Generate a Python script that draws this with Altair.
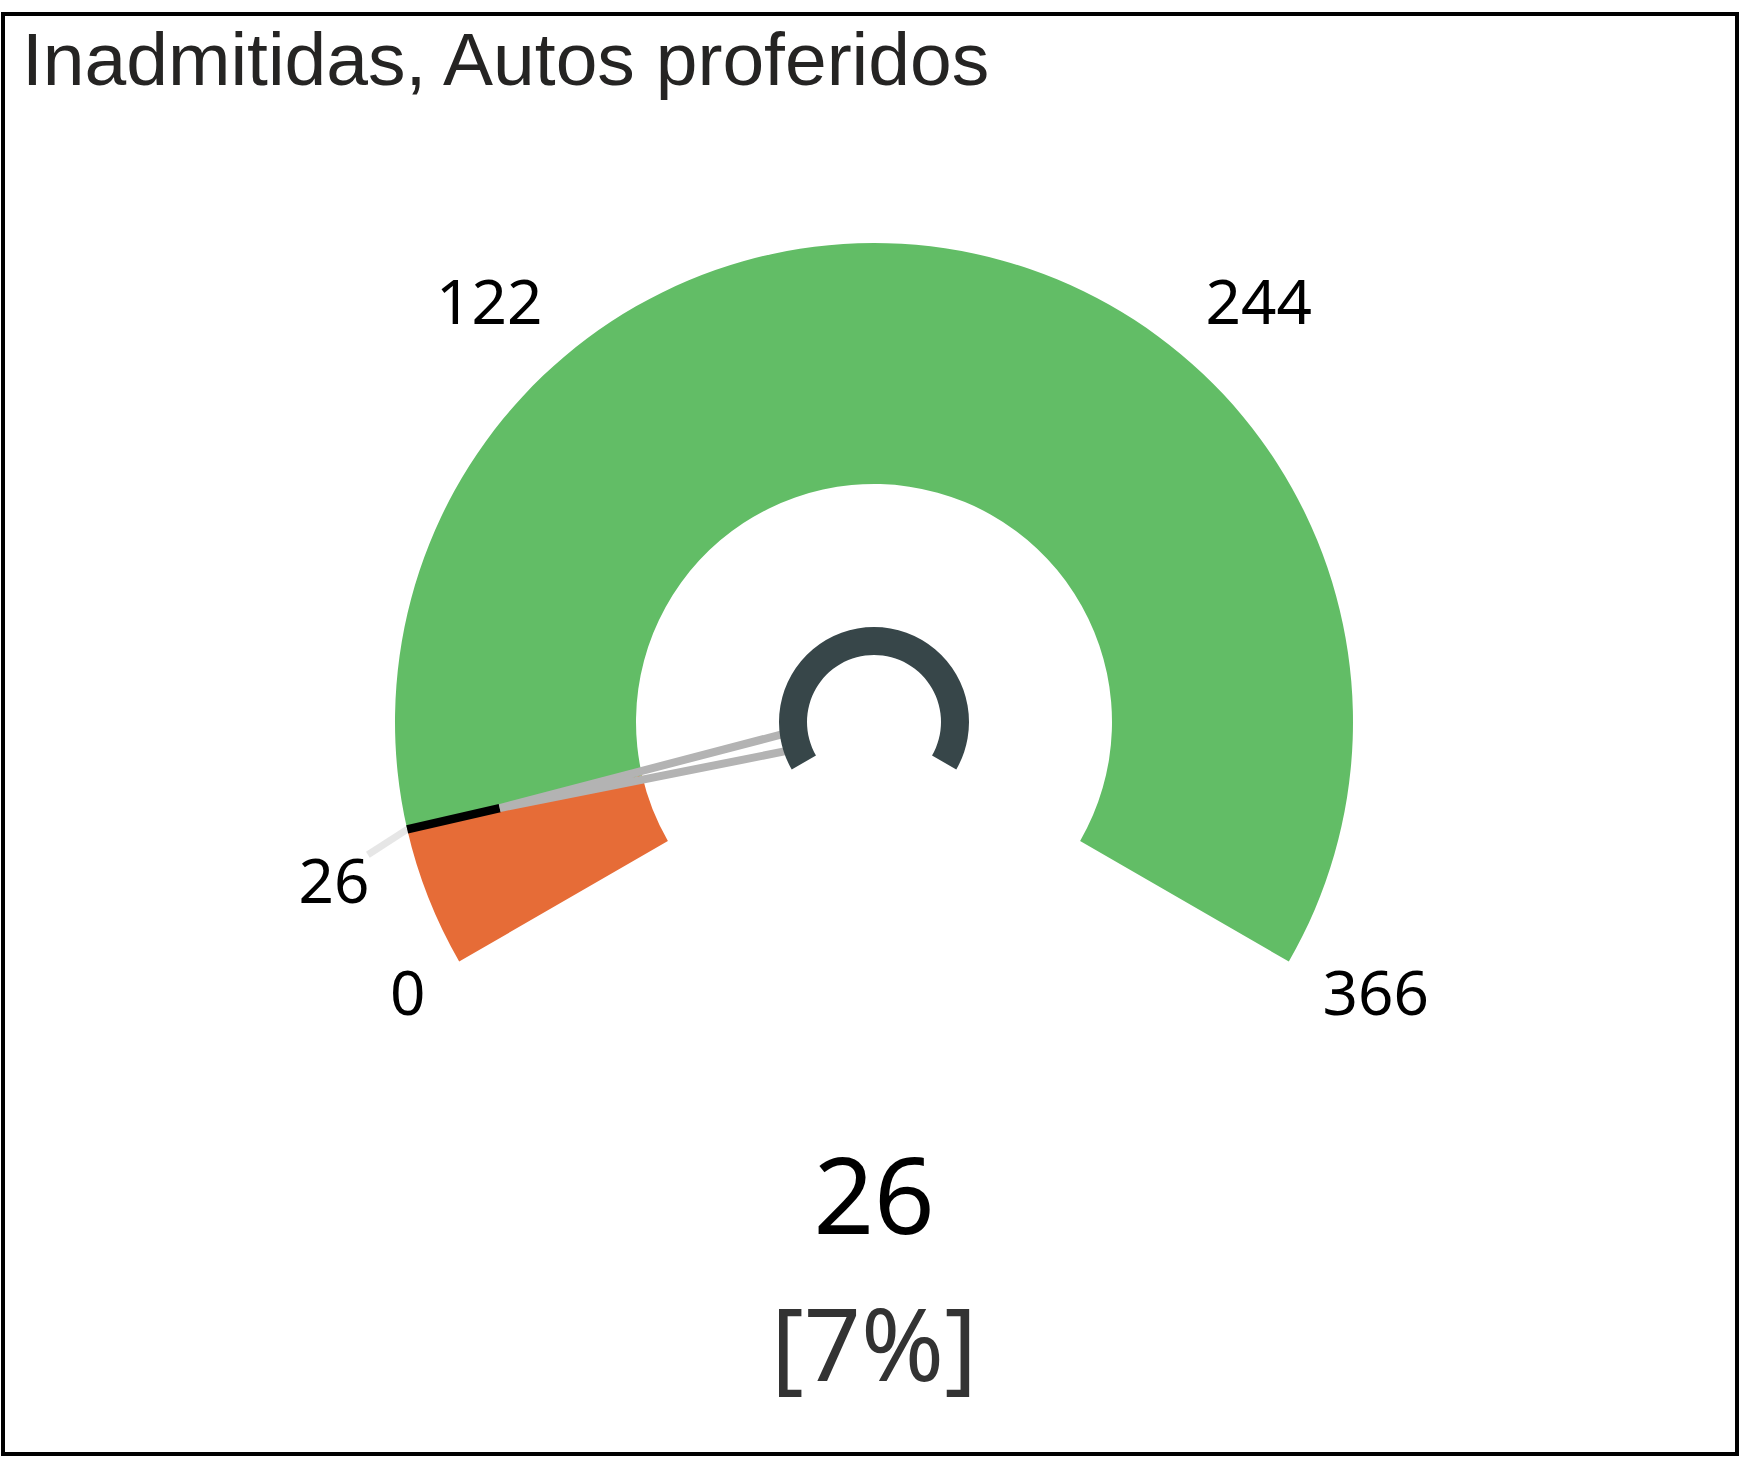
import math
import altair as alt
import pandas as pd

# ---------------- data ----------------
TITLE = "Inadmitidas, Autos proferidos"
GAUGE_MIN = 0
GAUGE_MAX = 366
VALUE = 26
PERCENT_LABEL = "[7%]"
BAND_START = [0, 26]
BAND_END = [26, 366]
BAND_COLOR = ["#E66C37", "#62BD66"]
TICK_VALUES = [122, 244]
END_VALUES = [0, 366]

# ---------------- layout / style ----------------
W, H = 1734, 1440
CX, CY = 871, 708
R_OUT, R_IN = 479, 238
HUB_OUT, HUB_IN = 95, 67
NEEDLE_TIP = 384
LABEL_FONT = "Noto Sans"

theta_scale = alt.Scale(domain=[GAUGE_MIN, GAUGE_MAX],
                        range=[-2 * math.pi / 3, 2 * math.pi / 3])
angle_scale = alt.Scale(domain=[GAUGE_MIN, GAUGE_MAX], range=[-120, 120])

center = dict(x=alt.value(CX), y=alt.value(CY))

bands_df = pd.DataFrame({"start": BAND_START, "end": BAND_END, "color": BAND_COLOR})
hub_df = pd.DataFrame({"start": [GAUGE_MIN], "end": [GAUGE_MAX]})
value_df = pd.DataFrame({"v": [VALUE], "label": [str(VALUE)]})

bands = alt.Chart(bands_df).mark_arc(radius=R_OUT, radius2=R_IN).encode(
    theta=alt.Theta("start:Q", scale=theta_scale, stack=False),
    theta2="end:Q",
    color=alt.Color("color:N", scale=None),
    **center,
)

hub = alt.Chart(hub_df).mark_arc(radius=HUB_OUT, radius2=HUB_IN, color="#374649").encode(
    theta=alt.Theta("start:Q", scale=theta_scale, stack=False),
    theta2="end:Q",
    **center,
)


def pointer(shape, color, width):
    return alt.Chart(value_df).mark_point(
        shape=shape, size=4, filled=False, color=color, strokeWidth=width, opacity=1
    ).encode(angle=alt.Angle("v:Q", scale=angle_scale), **center)


leader = pointer(f"M 0,{-R_OUT} L -16,-523", "#E6E6E6", 7)
marker = pointer(f"M 0,{-R_OUT} L 0,{-NEEDLE_TIP}", "#000000", 8.5)
needle = pointer(f"M -9,-80 L 0,{-NEEDLE_TIP} L 9,-80", "#B3B3B3", 8)


def polar_label(values, align, radius, dx, dy):
    df = pd.DataFrame({"v": values, "label": [str(v) for v in values]})
    return alt.Chart(df).mark_text(
        radius=radius, align=align, baseline="middle", dx=dx, dy=dy,
        font=LABEL_FONT, fontSize=62, color="#000000",
    ).encode(
        theta=alt.Theta("v:Q", scale=theta_scale),
        text="label:N",
        **center,
    )


lbl_min = polar_label(END_VALUES[:1], "right", 518, 0, 15)
lbl_max = polar_label(END_VALUES[1:], "left", 518, 0, 15)
lbl_t1 = polar_label(TICK_VALUES[:1], "center", 544, -35, 0)
lbl_t2 = polar_label(TICK_VALUES[1:], "center", 544, 35, 0)
lbl_val = polar_label([VALUE], "center", 554, 0, 38)

title = alt.Chart(pd.DataFrame({"t": [TITLE]})).mark_text(
    align="left", baseline="alphabetic", font="Liberation Sans",
    fontSize=75, color="#252423",
).encode(text="t:N", x=alt.value(19), y=alt.value(71))

big_value = alt.Chart(value_df).mark_text(
    align="center", baseline="alphabetic", font=LABEL_FONT,
    fontSize=106, color="#000000",
).encode(text="label:N", x=alt.value(CX), y=alt.value(1220))

pct = alt.Chart(pd.DataFrame({"p": [PERCENT_LABEL]})).mark_text(
    align="center", baseline="alphabetic", font=LABEL_FONT,
    fontSize=100, color="#333333",
).encode(text="p:N", x=alt.value(CX), y=alt.value(1367))

chart = alt.layer(
    bands, leader, marker, needle, hub,
    lbl_min, lbl_max, lbl_t1, lbl_t2, lbl_val,
    title, big_value, pct,
).properties(
    width=W, height=H,
    padding={"left": 3, "top": 14, "right": 4, "bottom": 8},
    autosize=alt.AutoSizeParams(type="none"),
    background="white",
).configure_view(stroke="#000000", strokeWidth=4)

chart.save("out.html", embed_options={"renderer": "svg", "actions": False})
